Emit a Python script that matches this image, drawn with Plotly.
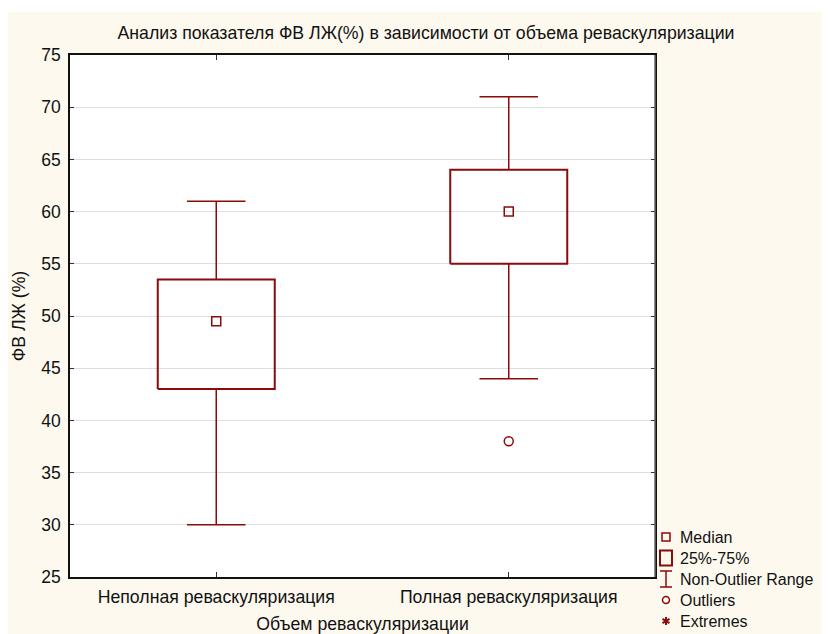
import numpy as np
import plotly.graph_objects as go

categories = ["Неполная реваскуляризация", "Полная реваскуляризация"]
median = [49.5, 60.0]
q1 = [43.0, 55.0]
q3 = [53.5, 64.0]
whisker_low = [30.0, 44.0]
whisker_high = [61.0, 71.0]
outlier_x = [1]
outlier_y = [38.0]
y_ticks = [25, 30, 35, 40, 45, 50, 55, 60, 65, 70, 75]
legend_labels = ["Median", "25%-75%", "Non-Outlier Range", "Outliers", "Extremes"]

RED = "#8B0A0A"
FONT = "Arial, Liberation Sans, sans-serif"
BOX_HALF = 0.2
CAP_HALF = 0.1
FS = 17.7
LEG_FS = 16

# figure geometry (page has an 8px body margin)
W, H = 822, 626
ML, MT, MR, MB = 62, 47, 175, 57
PW, PH = W - ML - MR, H - MT - MB


def px_x(page_x):
    return (page_x - 8 - ML) / PW


def px_y(page_y):
    return (H - MB - (page_y - 8)) / PH


pos = np.arange(len(categories))

fig = go.Figure()

# boxes
bx, by = [], []
for i in pos:
    bx += [i - BOX_HALF, i + BOX_HALF, i + BOX_HALF, i - BOX_HALF, i - BOX_HALF, None]
    by += [q1[i], q1[i], q3[i], q3[i], q1[i], None]
fig.add_trace(go.Scatter(x=bx, y=by, mode="lines", line=dict(color=RED, width=2),
                         showlegend=False, hoverinfo="skip"))

# whiskers
wx, wy = [], []
for i in pos:
    wx += [i, i, None, i - CAP_HALF, i + CAP_HALF, None,
           i, i, None, i - CAP_HALF, i + CAP_HALF, None]
    wy += [q3[i], whisker_high[i], None, whisker_high[i], whisker_high[i], None,
           q1[i], whisker_low[i], None, whisker_low[i], whisker_low[i], None]
fig.add_trace(go.Scatter(x=wx, y=wy, mode="lines", line=dict(color=RED, width=1.5),
                         showlegend=False, hoverinfo="skip"))

# medians
fig.add_trace(go.Scatter(x=pos, y=median, mode="markers",
                         marker=dict(symbol="square-open", size=9, color=RED, line=dict(width=1.5)),
                         showlegend=False))
# outliers
fig.add_trace(go.Scatter(x=outlier_x, y=outlier_y, mode="markers",
                         marker=dict(symbol="circle-open", size=9, color=RED, line=dict(width=1.5)),
                         showlegend=False))

# manual legend (symbols as pixel-sized shapes, labels as annotations)
shapes = [
    dict(type="rect", xref="paper", yref="paper", x0=-0.3, x1=1.5,
         y0=px_y(12), y1=px_y(8), fillcolor="white", line=dict(width=0), layer="above"),
    # lighter right frame line as in the reference
    dict(type="line", xref="paper", yref="paper", x0=1, x1=1, y0=0, y1=1,
         line=dict(color="#666", width=1.5), layer="above"),
]
annotations = []
leg_sym_x = px_x(666)
leg_txt_x = px_x(679)
leg_rows = [537, 558, 579, 600, 621]
sym_paths = [
    ("rect", (-4, 4, -4, 4), 1.5),
    ("rect", (-6, 6, -7.5, 7.5), 2),
    ("path", "M-6,-8 L6,-8 M0,-8 L0,8 M-6,8 L6,8", 1.5),
    ("circle", (-3.5, 3.5, -3.5, 3.5), 1.5),
    ("path", "M0,-4 L0,4 M-3.5,-2.2 L3.5,2.2 M-3.5,2.2 L3.5,-2.2", 2),
]
for row, label, (kind, geom, lw) in zip(leg_rows, legend_labels, sym_paths):
    yy = px_y(row)
    base = dict(xref="paper", yref="paper", xsizemode="pixel", ysizemode="pixel",
                xanchor=leg_sym_x, yanchor=yy, line=dict(color=RED, width=lw), layer="above")
    if kind == "path":
        shapes.append(dict(type="path", path=geom, **base))
    else:
        x0, x1, y0, y1 = geom
        shapes.append(dict(type=kind, x0=x0, x1=x1, y0=y0, y1=y1, **base))
    annotations.append(dict(text=label, xref="paper", yref="paper", x=leg_txt_x, y=yy,
                            xanchor="left", yanchor="middle", showarrow=False, borderpad=0,
                            font=dict(size=LEG_FS, family=FONT, color="#111")))

fig.update_layout(
    width=W, height=H,
    margin=dict(l=ML, r=MR, t=MT, b=MB, autoexpand=False),
    paper_bgcolor="#FDF9EF",
    plot_bgcolor="white",
    font=dict(family=FONT, size=FS, color="#111"),
    showlegend=False,
    title=dict(text="Анализ показателя ФВ ЛЖ(%) в зависимости от объема реваскуляризации",
               xref="container", yref="container",
               x=(426 - 8) / W, xanchor="center", y=1 - (33 - 8) / H, yanchor="middle",
               font=dict(size=FS, family=FONT, color="#111")),
    xaxis=dict(range=[-0.5, 1.5], tickvals=list(pos), ticktext=categories,
               showgrid=False, zeroline=False, showline=True, linecolor="#111", linewidth=1.5,
               mirror="ticks", ticks="inside", ticklen=5, tickcolor="#333",
               tickfont=dict(size=FS), automargin=False, ticklabelstandoff=3,
               title=dict(text="Объем реваскуляризации", standoff=14, font=dict(size=FS))),
    yaxis=dict(range=[25, 75], tickvals=y_ticks,
               showgrid=True, gridcolor="#DEDEDE", gridwidth=1, zeroline=False,
               showline=True, linecolor="#111", linewidth=1.5,
               mirror="ticks", ticks="inside", ticklen=4, tickcolor="#333",
               tickfont=dict(size=17.5), automargin=False, ticklabelstandoff=4,
               title=dict(text="ФВ ЛЖ (%)", standoff=11, font=dict(size=FS))),
    shapes=shapes,
    annotations=annotations,
)

fig.write_html("out.html")
